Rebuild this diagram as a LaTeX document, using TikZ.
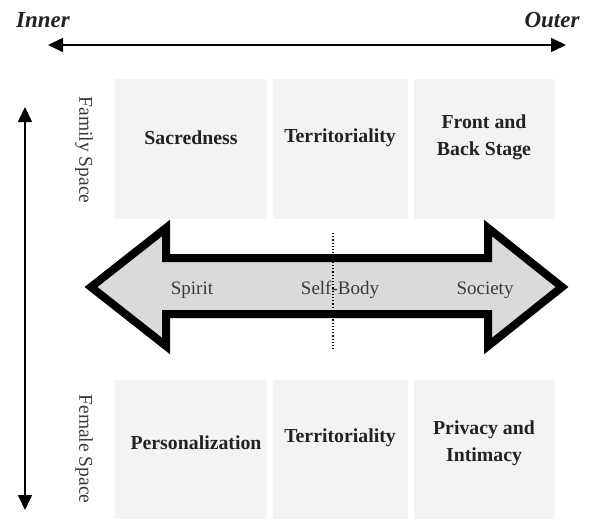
\documentclass[tikz,border=0pt]{standalone}
\usepackage{fontspec}
\setmainfont{Liberation Serif}
\usetikzlibrary{arrows.meta}
\definecolor{boxfill}{HTML}{F2F3F5}
\definecolor{arrowfill}{HTML}{DADADA}
\definecolor{txt}{HTML}{222222}
\definecolor{graytxt}{HTML}{3A3A3A}
\tikzset{
  cell/.style={fill=boxfill, draw=none, inner sep=0pt, anchor=north west},
  lab/.style={text=txt, font=\fontsize{19.8}{27}\selectfont\bfseries, align=center, inner sep=0pt},
  axis/.style={line width=1.6pt, {Triangle[length=15pt,width=14pt]}-{Triangle[length=15pt,width=14pt]}},
  axlab/.style={text=txt, font=\fontsize{23}{26}\selectfont\bfseries\itshape, inner sep=0pt},
  sidelab/.style={text=graytxt, font=\fontsize{19.5}{24}\selectfont, rotate=-90, inner sep=0pt},
  arrlab/.style={text=graytxt, font=\fontsize{19}{22}\selectfont, inner sep=0pt}
}
\begin{document}
\begin{tikzpicture}[x=1pt,y=-1pt]
\useasboundingbox (0,0) rectangle (593,519);
\fill[white] (0,0) rectangle (593,519);

% top axis
\node[axlab] (inner) at (43,20) {Inner};
\node[axlab] (outer) at (552,20) {Outer};
\coordinate (hl) at (48,45);
\coordinate (hr) at (566,45);
\draw[axis] (hl) -- (hr);

% vertical axis
\coordinate (vt) at (25,107);
\coordinate (vb) at (25,510);
\draw[axis] (vt) -- (vb);
\node[sidelab] (fam) at (84,150) {Family Space};
\node[sidelab] (fem) at (84,449) {Female Space};

% top boxes
\node[cell, minimum width=152, minimum height=140] (b1) at (115,79) {};
\node[cell, minimum width=135, minimum height=140] (b2) at (273,79) {};
\node[cell, minimum width=141, minimum height=140] (b3) at (414,79) {};
% bottom boxes
\node[cell, minimum width=152, minimum height=139] (b4) at (115,380) {};
\node[cell, minimum width=135, minimum height=139] (b5) at (273,380) {};
\node[cell, minimum width=141, minimum height=139] (b6) at (414,380) {};

\node[lab] (l1) at (191,138) {Sacredness};
\node[lab] (l2) at (340,138) {Territoriality};
\node[lab] (l3) at (484,137) {Front and\\Back Stage};
\node[lab] (l4) at (196,443) {Personalization};
\node[lab] (l5) at (340,438) {Territoriality};
\node[lab] (l6) at (484,443) {Privacy and\\Intimacy};

% big double arrow
\draw[line width=8pt, miter limit=10, fill=arrowfill]
  (91,287) -- (166,228) -- (166,258) -- (488,258) -- (488,228) -- (562,287)
  -- (488,346) -- (488,314) -- (166,314) -- (166,346) -- cycle;
\node[arrlab] (s1) at (192,290) {Spirit};
\node[arrlab] (s2) at (340,290) {Self-Body};
\node[arrlab] (s3) at (485,290) {Society};

% dotted divider
\coordinate (dt) at (333,233);
\coordinate (db) at (333,351);
\draw[line width=1.2pt, dotted] (dt) -- (db);
\end{tikzpicture}
\end{document}
